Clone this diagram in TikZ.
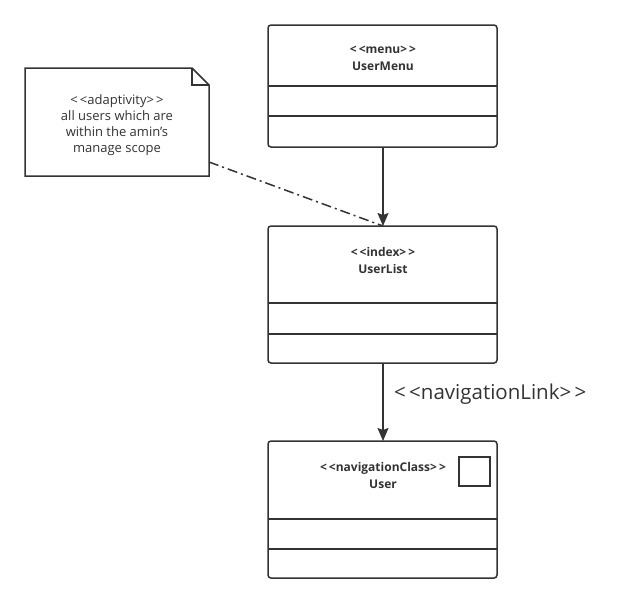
\documentclass[tikz,border=0pt]{standalone}
\usepackage{fontspec}
\setmainfont{Open Sans}
\usetikzlibrary{arrows.meta,shapes.misc}
\definecolor{ln}{HTML}{333333}
\definecolor{tx}{HTML}{333333}
\tikzset{
  px/.style={x=1pt,y=-1pt},
  umlbox/.style={draw=ln,line width=1.5pt,rounded corners=3pt,fill=white},
  divider/.style={draw=ln,line width=1.5pt},
  boldtxt/.style={font=\fontsize{12}{17}\selectfont\bfseries,text=tx,align=center,inner sep=0pt},
  notetxt/.style={font=\fontsize{13}{16}\selectfont,text=tx,align=center,inner sep=0pt},
  conn/.style={draw=ln,line width=1.5pt,-{Stealth[length=13pt,width=11pt,inset=2pt]}},
  notelink/.style={draw=ln,line width=1.5pt,dash pattern=on 10pt off 4pt on 2pt off 4pt},
}
\begin{document}
\begin{tikzpicture}[px]
\useasboundingbox (0,0) rectangle (631,603);
% UserMenu
\draw[umlbox] (268,25) rectangle (497,147);
\draw[divider] (268,86) -- (497,86);
\draw[divider] (268,116) -- (497,116);
\node[boldtxt] (menuT) at (383,58) {<\,<menu>\,>\\UserMenu};
\coordinate (menuB) at (383,147);
% UserList
\draw[umlbox] (268,226) rectangle (497,363);
\draw[divider] (268,303) -- (497,303);
\draw[divider] (268,334) -- (497,334);
\node[boldtxt] (listT) at (383,260) {<\,<index>\,>\\UserList};
\coordinate (listTop) at (383,226);
\coordinate (listB) at (383,363);
% User
\draw[umlbox] (268,441) rectangle (497,578);
\draw[divider] (268,519) -- (497,519);
\draw[divider] (268,549) -- (497,549);
\node[boldtxt] (userT) at (383,475) {<\,<navigationClass>\,>\\User};
\draw[ln,line width=1.5pt] (459,457) rectangle (490,486);
\coordinate (userTop) at (383,441);
% Note
\draw[ln,line width=1.5pt,fill=white] (25,68) -- (192,68) -- (209,85) -- (209,176) -- (25,176) -- cycle;
\draw[ln,line width=1.2pt] (192,68) -- (192,85) -- (209,85);
\node[notetxt] (note) at (117,125) {<\,<adaptivity>\,>\\all users which are\\within the amin's\\manage scope};
\coordinate (noteE) at (209,162);
% connectors
\draw[conn] (menuB) -- (listTop);
\draw[conn] (listB) -- node[right=7pt,pos=0.4,font=\fontsize{20.5}{22}\selectfont,text=tx] {<\,<navigationLink>\,>} (userTop);
\draw[notelink] (noteE) -- (listTop);
\end{tikzpicture}
\end{document}
